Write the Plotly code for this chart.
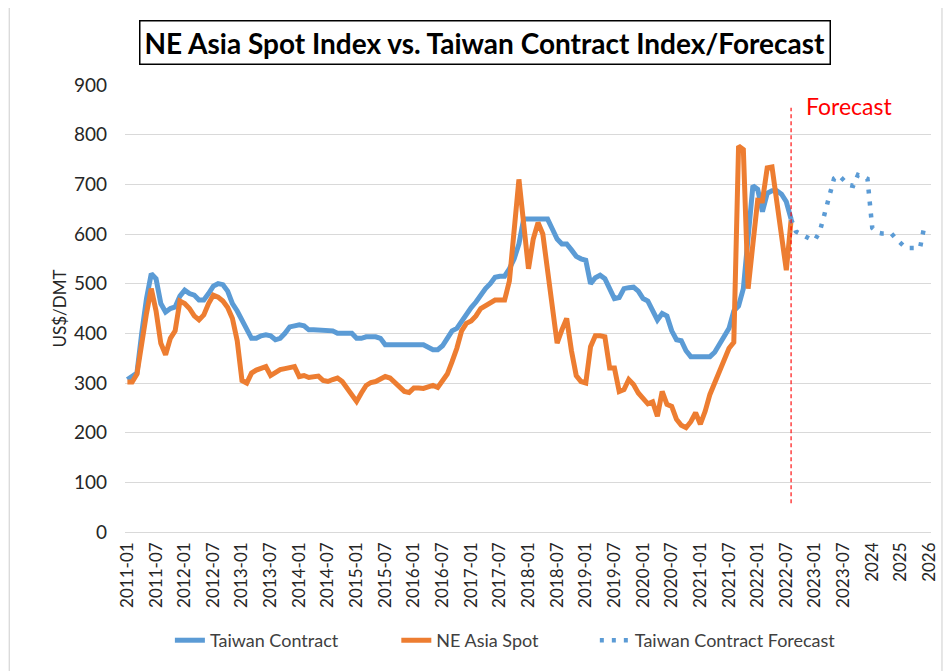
import plotly.graph_objects as go

# ---------------- data ----------------
taiwan_contract = [
    307, 315, 320, 400, 470, 520, 510, 460, 443, 450,
    453, 475, 487, 480, 477, 467, 467, 480, 495, 500,
    498, 485, 460, 445, 427, 410, 390, 390, 395, 397,
    395, 387, 390, 400, 413, 415, 417, 415, 407, 407,
    407, 407, 407, 405, 400, 400, 400, 400, 390, 390,
    393, 393, 393, 390, 377, 377, 377, 377, 377, 377,
    377, 377, 377, 372, 367, 367, 375, 390, 405, 410,
    425, 440, 452, 463, 477, 490, 500, 513, 515, 515,
    530, 550, 580, 630, 630, 630, 630, 630, 630, 610,
    590, 580, 580, 568, 555, 550, 547, 500, 512, 517,
    510, 490, 470, 472, 490, 492, 493, 485, 470, 465,
    445, 427, 440, 435, 405, 387, 385, 365, 353, 353,
    353, 353, 353, 362, 378, 395, 410, 445, 455, 490,
    590, 697, 690, 645, 682, 687, 687, 680, 665, 630,
]

ne_asia_spot = [
    302, 302, 318, 385, 440, 490, 445, 380, 357, 390,
    405, 465, 460, 450, 435, 427, 437, 460, 477, 473,
    465, 452, 430, 385, 305, 300, 320, 326, 330, 333,
    315, 320, 327, 329, 331, 333, 313, 315, 311, 312,
    314, 305, 303, 307, 310, 303, 290, 275, 263, 280,
    295, 301, 303, 308, 313, 310, 302, 293, 283, 281,
    290, 290, 289, 292, 295, 291, 305, 318, 343, 370,
    405, 420, 425, 435, 450, 455, 462, 467, 467, 467,
    505, 600, 710, 620, 530, 590, 623, 600, 530, 445,
    380, 407, 430, 365, 315, 303, 300, 373, 395, 395,
    393, 330, 330, 283, 287, 307, 297, 280, 267, 258,
    262, 233, 283, 257, 253, 227, 215, 210, 222, 240,
    217, 243, 277, 300, 325, 350, 370, 382, 777, 770,
    490, 580, 668, 667, 733, 735, 668, 597, 527, 628,
]

forecast_start = len(taiwan_contract) - 1
taiwan_forecast = [
    630, 605, 600, 595, 590, 588, 605, 640, 680, 712,
    718, 708, 699, 697, 719, 715, 711, 612, 603, 601,
    601, 601, 590, 580, 572, 572, 572, 572, 620,
]

tick_labels = [
    "2011-01", "2011-07", "2012-01", "2012-07", "2013-01", "2013-07",
    "2014-01", "2014-07", "2015-01", "2015-07", "2016-01", "2016-07",
    "2017-01", "2017-07", "2018-01", "2018-07", "2019-01", "2019-07",
    "2020-01", "2020-07", "2021-01", "2021-07", "2022-01", "2022-07",
    "2023-01", "2023-07", "2024", "2025", "2026",
]
tick_step = 6

title_text = "NE Asia Spot Index vs. Taiwan Contract Index/Forecast"
forecast_marker_x = forecast_start
forecast_line_range = [58, 854]

# ---------------- figure ----------------
FONT = "Lato, 'Open Sans', Arial, sans-serif"
BLUE = "#5B9BD5"
ORANGE = "#ED7D31"
GRID = "#D9D9D9"

x_actual = list(range(len(taiwan_contract)))
x_forecast = list(range(forecast_start, forecast_start + len(taiwan_forecast)))

fig = go.Figure()
fig.add_trace(go.Scatter(
    x=x_actual, y=taiwan_contract, mode="lines", name="Taiwan Contract",
    line=dict(color=BLUE, width=5), legend="legend",
))
fig.add_trace(go.Scatter(
    x=x_actual, y=ne_asia_spot, mode="lines", name="NE Asia Spot",
    line=dict(color=ORANGE, width=5), legend="legend2",
))
fig.add_trace(go.Scatter(
    x=x_forecast, y=taiwan_forecast, mode="lines",
    name="Taiwan Contract Forecast",
    line=dict(color=BLUE, width=4.5, dash="4px,8px"), legend="legend3",
))

# page body has an 8px margin: figure is offset by OFF on screen
OFF = 8
W, H = 951 - OFF, 671 - OFF
plot_left, plot_right, plot_top, plot_bottom = 125, 933, 85, 534  # screen px
L = plot_left - OFF
R = W - (plot_right - OFF)
T = plot_top - OFF
B = H - (plot_bottom - OFF)
pw, ph = W - L - R, H - T - B


def px_to_paper_x(px):
    return (px - OFF - L) / pw


def px_to_paper_y(py):
    return (H - B - (py - OFF)) / ph


legend_common = dict(
    orientation="h", yanchor="middle", xanchor="left",
    y=px_to_paper_y(643), font=dict(family=FONT, size=18, color="#404040"),
    bgcolor="rgba(0,0,0,0)", borderwidth=0,
)

fig.update_layout(
    width=W, height=H,
    margin=dict(l=L, r=R, t=T, b=B),
    paper_bgcolor="white", plot_bgcolor="white",
    font=dict(family=FONT, color="#262626"),
    showlegend=True,
    legend=dict(x=px_to_paper_x(170), **legend_common),
    legend2=dict(x=px_to_paper_x(397), **legend_common),
    legend3=dict(x=px_to_paper_x(596), **legend_common),
    xaxis=dict(
        range=[-0.5, 168.3],
        tickmode="array",
        tickvals=[i * tick_step for i in range(len(tick_labels))],
        ticktext=tick_labels,
        tickangle=-90,
        tickfont=dict(family=FONT, size=17, color="#262626"),
        showgrid=False, zeroline=False, showline=False, ticks="",
        ticklabelstandoff=6,
    ),
    yaxis=dict(
        range=[0, 900], dtick=100, tick0=0,
        showgrid=True, gridcolor=GRID, gridwidth=1.3,
        zeroline=True, zerolinecolor=GRID, zerolinewidth=1.3,
        showline=False, ticks="",
        tickfont=dict(family=FONT, size=19, color="#262626"),
        ticklabelstandoff=17,
        title=dict(text="US$/DMT", font=dict(family=FONT, size=17, color="#262626"),
                   standoff=2),
    ),
)

# chart border
fig.add_shape(type="rect", xref="paper", yref="paper",
              x0=px_to_paper_x(9), x1=px_to_paper_x(944),
              y0=px_to_paper_y(700), y1=px_to_paper_y(5),
              line=dict(color=GRID, width=1.3), layer="below")

# forecast divider
fig.add_shape(type="line", xref="x", yref="y",
              x0=forecast_marker_x, x1=forecast_marker_x,
              y0=forecast_line_range[0], y1=forecast_line_range[1],
              line=dict(color="rgba(255,0,0,0.75)", width=1.5, dash="4px,3px"))

fig.add_annotation(xref="x", yref="y", x=forecast_marker_x + 2.6, y=858,
                   text="Forecast", showarrow=False, xanchor="left", yanchor="middle",
                   font=dict(family=FONT, size=23, color="#FF0000"))

# boxed title
fig.add_annotation(xref="paper", yref="paper",
                   x=px_to_paper_x(486), y=px_to_paper_y(42),
                   text="<b>" + title_text + "</b>", showarrow=False,
                   xanchor="center", yanchor="middle",
                   font=dict(family=FONT, size=28, color="black"),
                   bordercolor="black", borderwidth=1.5, borderpad=4,
                   bgcolor="white")

fig.write_html("out.html")
